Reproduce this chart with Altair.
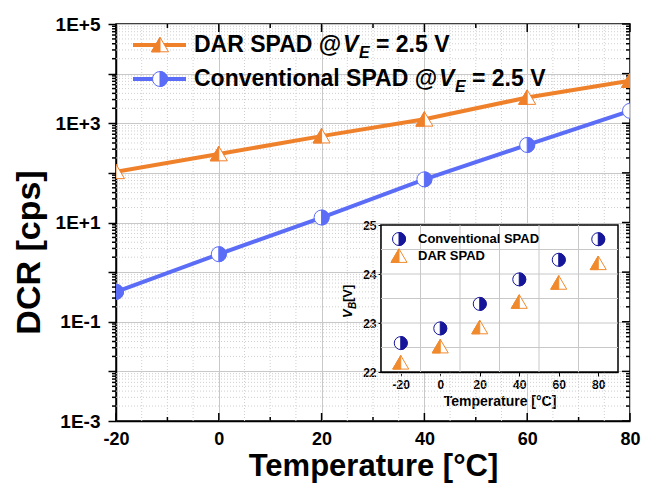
import altair as alt
import pandas as pd

# ---------------- data ----------------
temps = [-20, 0, 20, 40, 60, 80]
dar_dcr = [105, 240, 550, 1200, 3300, 7200]
conv_dcr = [0.40, 2.3, 12.6, 74, 365, 1780]
conv_vb = [22.59, 22.89, 23.39, 23.89, 24.29, 24.71]
dar_vb = [22.19, 22.52, 22.91, 23.43, 23.82, 24.22]

x_ticks = [-20, 0, 20, 40, 60, 80]
x_minor = [-10, 10, 30, 50, 70]
x_dotted = [v for v in range(-15, 80, 5) if v % 20 != 0]
decades = [10.0 ** e for e in range(-3, 6)]
y_minor = [m * 10.0 ** e for e in range(-3, 5) for m in range(2, 10)]

inset_x_ticks = [-20, 0, 20, 40, 60, 80]
inset_x_grid = [-10, 10, 30, 50, 70]
inset_y_ticks = [22, 23, 24, 25]
inset_y_grid = [22.5, 23, 23.5, 24, 24.5]

W, H = 514, 397
FONT = "Liberation Sans"
ORANGE = "#F0812B"
BLUE = "#5B6CF7"
NAVY = "#16169A"
IORANGE = "#F08A2C"
GRID = "#c8c8c8"
DOT = "#cfcfcf"

TRI = "M0,-0.9L1,0.8L-1,0.8Z"
TRI_L = "M0,-0.9L0,0.8L-1,0.8Z"
HALF_R = "M0,-1A1,1,0,0,1,0,1Z"

# ---------------- scales & axes ----------------
xs = alt.Scale(domain=[-20, 80], nice=False, zero=False)
ys = alt.Scale(type="log", domain=[1e-3, 1e5], nice=False)

main_x_axis = alt.Axis(values=x_ticks, labelExpr="'' + datum.value", title="Temperature [°C]",
                       grid=True, gridColor=GRID, gridWidth=1, ticks=False, labelFlush=False,
                       labelPadding=9, labelFontSize=18, labelFont=FONT, labelFontWeight="bold",
                       labelColor="black", titleFont=FONT, titleFontSize=31, titleFontWeight="bold",
                       titleColor="black", titlePadding=3, domainColor="black", domainWidth=1.5)
main_y_axis = alt.Axis(values=decades,
                       labelExpr="(round(log(datum.value)/LN10) % 2 == 0) ? '' : (datum.value >= 1 ? '1E+' + round(log(datum.value)/LN10) : '1E' + round(log(datum.value)/LN10))",
                       title="DCR [cps]", grid=True, gridColor=GRID, gridWidth=1,
                       tickSize=8, tickColor="black", tickWidth=1.5, labelPadding=8, labelFlush=False,
                       labelFontSize=19, labelFont=FONT, labelFontWeight="bold", labelColor="black",
                       titleFont=FONT, titleFontSize=34, titleFontWeight="bold", titleColor="black",
                       titlePadding=9, titleY=228, domainColor="black", domainWidth=1.5)


def MX(f):
    return alt.X(f, type="quantitative", scale=xs, axis=main_x_axis)


def MY(f):
    return alt.Y(f, type="quantitative", scale=ys, axis=main_y_axis)


ixs = alt.Scale(domain=[-30, 90], range=[265, 502], nice=False, zero=False)
iys = alt.Scale(domain=[22, 25], range=[348, 201], nice=False, zero=False)
inset_x_axis = alt.Axis(values=inset_x_ticks, labelExpr="'' + datum.value", orient="bottom", offset=-49,
                        grid=False, tickSize=4, tickColor="black", labelPadding=3, labelFlush=False,
                        labelFont=FONT, labelFontSize=12, labelFontWeight="bold", labelColor="black",
                        title="Temperature [°C]", titleFont=FONT, titleFontSize=14, titleFontWeight="bold",
                        titleColor="black", titlePadding=4, domainColor="black", domainWidth=1.5)
inset_y_axis = alt.Axis(values=inset_y_ticks, labelExpr="'' + datum.value", orient="left", offset=-265,
                        grid=False, tickSize=3, tickColor="black", labelPadding=2,
                        labelFont=FONT, labelFontSize=12, labelFontWeight="bold", labelColor="black",
                        title=None, domainColor="black", domainWidth=1.5)


def IX(f):
    return alt.X(f, type="quantitative", scale=ixs, axis=inset_x_axis)


def IY(f):
    return alt.Y(f, type="quantitative", scale=iys, axis=inset_y_axis)


def one(label="x"):
    return pd.DataFrame({"t": [label]})


# ---------------- main chart layers ----------------
df_main = pd.DataFrame({"T": temps, "dar": dar_dcr, "conv": conv_dcr})
df_xdot = pd.DataFrame({"v": x_dotted})
df_ymin = pd.DataFrame({"v": y_minor})
df_xt = pd.DataFrame({"v": x_ticks})
df_xm = pd.DataFrame({"v": x_minor})
df_dec = pd.DataFrame({"v": decades})

main_layers = [
    alt.Chart(df_xdot).mark_rule(color=DOT, strokeDash=[1, 2], strokeWidth=1)
    .encode(x=MX("v"), y=alt.value(0), y2=alt.value(H)),
    alt.Chart(df_ymin).mark_rule(color=DOT, strokeDash=[1, 2], strokeWidth=1)
    .encode(y=MY("v"), x=alt.value(0), x2=alt.value(W)),
    # bottom inward ticks
    alt.Chart(df_xt).mark_rule(color="black", strokeWidth=1.5)
    .encode(x=MX("v"), y=alt.value(H), y2=alt.value(H - 8)),
    alt.Chart(df_xm).mark_rule(color="black", strokeWidth=1.5)
    .encode(x=MX("v"), y=alt.value(H), y2=alt.value(H - 4)),
    # top inward ticks
    alt.Chart(df_xt).mark_rule(color="black", strokeWidth=1.5)
    .encode(x=MX("v"), y=alt.value(0), y2=alt.value(8)),
    alt.Chart(df_xm).mark_rule(color="black", strokeWidth=1.5)
    .encode(x=MX("v"), y=alt.value(0), y2=alt.value(4)),
    # left minor outward ticks
    alt.Chart(df_ymin).mark_rule(color="black", strokeWidth=1.5)
    .encode(y=MY("v"), x=alt.value(-4), x2=alt.value(0)),
    # right inward ticks
    alt.Chart(df_dec).mark_rule(color="black", strokeWidth=1.5)
    .encode(y=MY("v"), x=alt.value(W - 8), x2=alt.value(W)),
    alt.Chart(df_ymin).mark_rule(color="black", strokeWidth=1.5)
    .encode(y=MY("v"), x=alt.value(W - 4), x2=alt.value(W)),
    # lines
    alt.Chart(df_main).mark_line(color=ORANGE, strokeWidth=4, clip=True)
    .encode(x=MX("T"), y=MY("dar")),
    alt.Chart(df_main).mark_line(color=BLUE, strokeWidth=4, clip=True)
    .encode(x=MX("T"), y=MY("conv")),
    # markers DAR
    alt.Chart(df_main).mark_point(shape=TRI, size=290, filled=True, fill="white", stroke=ORANGE,
                                  strokeWidth=1, opacity=1, clip=True)
    .encode(x=MX("T"), y=MY("dar")),
    alt.Chart(df_main).mark_point(shape=TRI_L, size=290, filled=True, fill=ORANGE, stroke=ORANGE,
                                  strokeWidth=1, opacity=1, clip=True)
    .encode(x=MX("T"), y=MY("dar")),
    # markers conventional
    alt.Chart(df_main).mark_point(shape="circle", size=225, filled=True, fill="white", stroke=BLUE,
                                  strokeWidth=1, opacity=1, clip=True)
    .encode(x=MX("T"), y=MY("conv")),
    alt.Chart(df_main).mark_point(shape=HALF_R, size=225, filled=True, fill=BLUE, stroke=BLUE,
                                  strokeWidth=1, opacity=1, clip=True)
    .encode(x=MX("T"), y=MY("conv")),
]

# legend (main)
leg_font = dict(font=FONT, fontWeight="bold", color="black", align="left", baseline="alphabetic")
main_layers += [
    alt.Chart(one()).mark_rule(color=ORANGE, strokeWidth=4)
    .encode(x=alt.value(17), x2=alt.value(70), y=alt.value(21)),
    alt.Chart(one()).mark_point(shape=TRI, size=290, filled=True, fill="white", stroke=ORANGE,
                                strokeWidth=1, opacity=1)
    .encode(x=alt.value(44), y=alt.value(21)),
    alt.Chart(one()).mark_point(shape=TRI_L, size=290, filled=True, fill=ORANGE, stroke=ORANGE,
                                strokeWidth=1, opacity=1)
    .encode(x=alt.value(44), y=alt.value(21)),
    alt.Chart(one()).mark_rule(color=BLUE, strokeWidth=4)
    .encode(x=alt.value(17), x2=alt.value(70), y=alt.value(55)),
    alt.Chart(one()).mark_point(shape="circle", size=225, filled=True, fill="white", stroke=BLUE,
                                strokeWidth=1, opacity=1)
    .encode(x=alt.value(44), y=alt.value(55)),
    alt.Chart(one()).mark_point(shape=HALF_R, size=225, filled=True, fill=BLUE, stroke=BLUE,
                                strokeWidth=1, opacity=1)
    .encode(x=alt.value(44), y=alt.value(55)),
    alt.Chart(one()).mark_text(text="DAR SPAD @", fontSize=23, **leg_font)
    .encode(x=alt.value(78), y=alt.value(28)),
    alt.Chart(one()).mark_text(text="V", fontSize=23, fontStyle="italic", **leg_font)
    .encode(x=alt.value(227), y=alt.value(28)),
    alt.Chart(one()).mark_text(text="E", fontSize=16, fontStyle="italic", **leg_font)
    .encode(x=alt.value(243), y=alt.value(34)),
    alt.Chart(one()).mark_text(text="= 2.5 V", fontSize=23, **leg_font)
    .encode(x=alt.value(260), y=alt.value(28)),
    alt.Chart(one()).mark_text(text="Conventional SPAD @", fontSize=23, **leg_font)
    .encode(x=alt.value(78), y=alt.value(62)),
    alt.Chart(one()).mark_text(text="V", fontSize=23, fontStyle="italic", **leg_font)
    .encode(x=alt.value(323), y=alt.value(62)),
    alt.Chart(one()).mark_text(text="E", fontSize=16, fontStyle="italic", **leg_font)
    .encode(x=alt.value(339), y=alt.value(68)),
    alt.Chart(one()).mark_text(text="= 2.5 V", fontSize=23, **leg_font)
    .encode(x=alt.value(356), y=alt.value(62)),
]

main = alt.layer(*main_layers)

# ---------------- inset layers ----------------
df_in = pd.DataFrame({"T": temps, "conv": conv_vb, "dar": dar_vb})
df_box = pd.DataFrame({"x1": [-30], "x2": [90], "y1": [22], "y2": [25]})
df_igx = pd.DataFrame({"v": inset_x_grid})
df_igy = pd.DataFrame({"v": inset_y_grid})

inset_layers = [
    alt.Chart(df_box).mark_rect(fill="white", stroke="black", strokeWidth=1.5)
    .encode(x=IX("x1"), x2="x2", y=IY("y1"), y2="y2"),
    alt.Chart(df_igx).mark_rule(color=GRID, strokeWidth=1)
    .encode(x=IX("v"), y=alt.value(201), y2=alt.value(348)),
    alt.Chart(df_igy).mark_rule(color=GRID, strokeWidth=1)
    .encode(y=IY("v"), x=alt.value(265), x2=alt.value(502)),
    alt.Chart(df_in).mark_point(shape="circle", size=169, filled=True, fill="white", stroke=NAVY,
                                strokeWidth=1, opacity=1)
    .encode(x=IX("T"), y=IY("conv")),
    alt.Chart(df_in).mark_point(shape=HALF_R, size=169, filled=True, fill=NAVY, stroke=NAVY,
                                strokeWidth=1, opacity=1)
    .encode(x=IX("T"), y=IY("conv")),
    alt.Chart(df_in).mark_point(shape=TRI, size=256, filled=True, fill="white", stroke=IORANGE,
                                strokeWidth=1, opacity=1)
    .encode(x=IX("T"), y=IY("dar")),
    alt.Chart(df_in).mark_point(shape=TRI_L, size=256, filled=True, fill=IORANGE, stroke=IORANGE,
                                strokeWidth=1, opacity=1)
    .encode(x=IX("T"), y=IY("dar")),
    # inset legend
    alt.Chart(one()).mark_point(shape="circle", size=169, filled=True, fill="white", stroke=NAVY,
                                strokeWidth=1, opacity=1)
    .encode(x=alt.value(283), y=alt.value(215)),
    alt.Chart(one()).mark_point(shape=HALF_R, size=169, filled=True, fill=NAVY, stroke=NAVY,
                                strokeWidth=1, opacity=1)
    .encode(x=alt.value(283), y=alt.value(215)),
    alt.Chart(one()).mark_point(shape=TRI, size=256, filled=True, fill="white", stroke=IORANGE,
                                strokeWidth=1, opacity=1)
    .encode(x=alt.value(283), y=alt.value(232)),
    alt.Chart(one()).mark_point(shape=TRI_L, size=256, filled=True, fill=IORANGE, stroke=IORANGE,
                                strokeWidth=1, opacity=1)
    .encode(x=alt.value(283), y=alt.value(232)),
    alt.Chart(one()).mark_text(text="Conventional SPAD", fontSize=13, **leg_font)
    .encode(x=alt.value(302), y=alt.value(219)),
    alt.Chart(one()).mark_text(text="DAR SPAD", fontSize=13, **leg_font)
    .encode(x=alt.value(302), y=alt.value(236)),
    # inset y title: V_B [V]
    alt.Chart(one()).mark_text(text="V", fontSize=13, fontStyle="italic", angle=270, **leg_font)
    .encode(x=alt.value(236), y=alt.value(294)),
    alt.Chart(one()).mark_text(text="B", fontSize=10, fontStyle="italic", angle=270, **leg_font)
    .encode(x=alt.value(240), y=alt.value(285)),
    alt.Chart(one()).mark_text(text=" [V]", fontSize=13, angle=270, **leg_font)
    .encode(x=alt.value(236), y=alt.value(278)),
]

inset = alt.layer(*inset_layers)

chart = (
    alt.layer(main, inset)
    .resolve_scale(x="independent", y="independent")
    .properties(width=W, height=H, autosize="none",
                padding={"left": 108, "top": 16, "right": 11, "bottom": 62},
                background="white")
    .configure_view(stroke="black", strokeWidth=1.5)
)

chart.save("out.html", embed_options={"renderer": "svg", "actions": False})
